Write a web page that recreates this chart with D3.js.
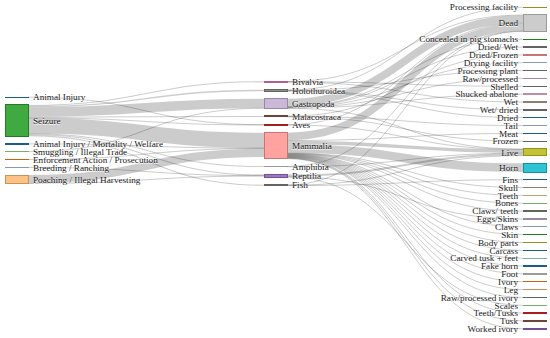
<html>
<head>
<style>
body { margin: 0; padding: 0; background: #fff; }
svg { display: block; }
.link { fill: none; stroke: #000; stroke-opacity: .2; }
.node rect { fill-opacity: .9; shape-rendering: crispEdges; }
.node text {
  font-family: "Liberation Serif", "Times New Roman", serif;
  font-size: 9.2px;
  fill: #222;
  text-shadow: 0 1px 0 #fff;
}
</style>
<script src="https://cdnjs.cloudflare.com/ajax/libs/d3/7.8.5/d3.min.js"></script>
</head>
<body>
<svg width="550" height="338"></svg>
<script>
var width = 550, height = 338

// column 1: incident type
var sources = ["Animal Injury", "Seizure", "Animal Injury / Mortality / Welfare",
  "Smuggling / Illegal Trade", "Enforcement Action / Prosecution",
  "Breeding / Ranching", "Poaching / Illegal Harvesting"]

// column 2: animal class
var classes = ["Bivalvia", "Holothuroidea", "Gastropoda", "Malacostraca", "Aves",
  "Mammalia", "Amphibia", "Reptilia", "Fish"]

// column 3: form of the product
var forms = ["Processing facility", "Dead", "Concealed in pig stomachs", "Dried/ Wet",
  "Dried/Frozen", "Drying facility", "Processing plant", "Raw/processed", "Shelled",
  "Shucked abalone", "Wet", "Wet/ dried", "Dried", "Tail", "Meat", "Frozen", "Live",
  "Horn", "Fins", "Skull", "Teeth", "Bones", "Claws/ teeth", "Eggs/Skins", "Claws",
  "Skin", "Body parts", "Carcass", "Carved tusk + feet", "Fake horn", "Foot", "Ivory",
  "Leg", "Raw/processed ivory", "Scales", "Teeth/Tusks", "Tusk", "Worked ivory"]

// incident -> class
var incidentFlows = [
  ["Animal Injury", "Aves", 1],
  ["Seizure", "Bivalvia", 3],
  ["Seizure", "Holothuroidea", 4],
  ["Seizure", "Gastropoda", 27],
  ["Seizure", "Malacostraca", 3],
  ["Seizure", "Aves", 1],
  ["Seizure", "Mammalia", 44],
  ["Seizure", "Amphibia", 2],
  ["Seizure", "Reptilia", 3],
  ["Seizure", "Fish", 3],
  ["Animal Injury / Mortality / Welfare", "Mammalia", 1],
  ["Smuggling / Illegal Trade", "Gastropoda", 1],
  ["Enforcement Action / Prosecution", "Mammalia", 1],
  ["Breeding / Ranching", "Reptilia", 1],
  ["Poaching / Illegal Harvesting", "Mammalia", 24],
  ["Poaching / Illegal Harvesting", "Reptilia", 1]
]

// class -> form
var formFlows = [
  ["Bivalvia", "Dead", 1], ["Bivalvia", "Wet", 1], ["Bivalvia", "Shelled", 1],
  ["Holothuroidea", "Processing facility", 1], ["Holothuroidea", "Processing plant", 1],
  ["Holothuroidea", "Wet/ dried", 1], ["Holothuroidea", "Dried", 1],
  ["Gastropoda", "Dead", 22], ["Gastropoda", "Concealed in pig stomachs", 1],
  ["Gastropoda", "Dried/ Wet", 1], ["Gastropoda", "Drying facility", 1],
  ["Gastropoda", "Raw/processed", 1], ["Gastropoda", "Shucked abalone", 1],
  ["Gastropoda", "Live", 1],
  ["Malacostraca", "Dried/Frozen", 1], ["Malacostraca", "Tail", 1], ["Malacostraca", "Frozen", 1],
  ["Aves", "Dead", 1], ["Aves", "Live", 1],
  ["Mammalia", "Dead", 22], ["Mammalia", "Live", 10], ["Mammalia", "Horn", 25],
  ["Mammalia", "Meat", 1], ["Mammalia", "Skull", 1], ["Mammalia", "Teeth", 1],
  ["Mammalia", "Bones", 1], ["Mammalia", "Claws/ teeth", 1], ["Mammalia", "Claws", 1],
  ["Mammalia", "Skin", 1], ["Mammalia", "Body parts", 1], ["Mammalia", "Carcass", 1],
  ["Mammalia", "Carved tusk + feet", 1], ["Mammalia", "Fake horn", 1],
  ["Mammalia", "Foot", 1], ["Mammalia", "Ivory", 1], ["Mammalia", "Leg", 1],
  ["Mammalia", "Raw/processed ivory", 1], ["Mammalia", "Teeth/Tusks", 1],
  ["Mammalia", "Tusk", 1], ["Mammalia", "Worked ivory", 1],
  ["Amphibia", "Dead", 1], ["Amphibia", "Live", 1],
  ["Reptilia", "Live", 6], ["Reptilia", "Eggs/Skins", 1], ["Reptilia", "Scales", 1],
  ["Fish", "Fins", 1], ["Fish", "Live", 1], ["Fish", "Dead", 1]
]

var c20 = ["#1f77b4", "#aec7e8", "#ff7f0e", "#ffbb78", "#2ca02c", "#98df8a", "#d62728",
  "#ff9896", "#9467bd", "#c5b0d5", "#8c564b", "#c49c94", "#e377c2", "#f7b6d2",
  "#7f7f7f", "#c7c7c7", "#bcbd22", "#dbdb8d", "#17becf", "#9edae5"]

// palette index per node, in the order sources, classes, forms
var colorIdx = [0, 4, 0, 5, 2, 1, 3,
  12, 14, 9, 10, 6, 7, 15, 8, 14,
  16, 15, 4, 14, 7, 1, 14, 9, 14, 13, 11, 14, 0, 1, 0, 14, 16, 18,
  0, 11, 17, 5, 14, 9, 1, 4, 16, 0, 19, 0, 15, 2, 3, 14, 5, 6, 10, 8]

var nodeWidth = 23, nodePadding = 7.5, iterations = 32
var extent = [[5, 7], [546, 329]]

// ---- build graph
var names = sources.concat(classes, forms)
var nodes = names.map(function(name, i) {
  var layer = i < sources.length ? 0 : (i < sources.length + classes.length ? 1 : 2)
  return {name: name, index: i, layer: layer, sourceLinks: [], targetLinks: []}
})
var byName = new Map(nodes.map(function(d) { return [d.name, d] }))
var links = incidentFlows.concat(formFlows).map(function(f, i) {
  return {source: byName.get(f[0]), target: byName.get(f[1]), value: f[2], index: i}
})
links.forEach(function(l) {
  l.source.sourceLinks.push(l)
  l.target.targetLinks.push(l)
})
nodes.forEach(function(d) {
  d.value = Math.max(d3.sum(d.sourceLinks, function(l) { return l.value }),
                     d3.sum(d.targetLinks, function(l) { return l.value }))
})
var columns = [0, 1, 2].map(function(k) { return nodes.filter(function(d) { return d.layer === k }) })

var x = d3.scalePoint().domain([0, 1, 2]).range([extent[0][0], extent[1][0] - nodeWidth])
nodes.forEach(function(d) { d.x0 = x(d.layer); d.x1 = d.x0 + nodeWidth })

var yTop = extent[0][1], yBottom = extent[1][1], py = nodePadding
var ky = d3.min(columns, function(c) {
  return (yBottom - yTop - (c.length - 1) * py) / d3.sum(c, function(d) { return d.value })
})
var h = d3.scaleLinear().domain([0, 1]).range([0, ky])
links.forEach(function(l) { l.width = h(l.value) })
nodes.forEach(function(d) { d.dy = h(d.value); d.y = yTop })

// links at a node are ordered by the position of their other end
function reorderLinks() {
  nodes.forEach(function(d) {
    d.sourceLinks.sort(function(a, b) { return a.target.y - b.target.y || a.index - b.index })
    d.targetLinks.sort(function(a, b) { return a.source.y - b.source.y || a.index - b.index })
  })
}

// the top a node would need for one of its links to run flat
function sourceTop(s, t) {
  var y = t.y - (t.targetLinks.length - 1) * py / 2
  for (var l of t.targetLinks) { if (l.source === s) break; y += l.width + py }
  for (var m of s.sourceLinks) { if (m.target === t) break; y -= m.width }
  return y
}
function targetTop(s, t) {
  var y = s.y - (s.sourceLinks.length - 1) * py / 2
  for (var l of s.sourceLinks) { if (l.target === t) break; y += l.width + py }
  for (var m of t.targetLinks) { if (m.source === s) break; y -= m.width }
  return y
}

// a column is a stack in input order; its biggest node holds the stack in place
function pack() {
  columns.forEach(function(col) {
    var a = d3.maxIndex(col, function(d) { return d.value }), i
    for (i = a + 1; i < col.length; ++i) col[i].y = col[i - 1].y + col[i - 1].dy + py
    for (i = a - 1; i >= 0; --i) col[i].y = col[i + 1].y - py - col[i].dy
    var last = col[col.length - 1], shift = 0
    if (last.y + last.dy > yBottom) shift = yBottom - last.y - last.dy
    if (col[0].y + shift < yTop) shift = yTop - col[0].y
    col.forEach(function(d) { d.y += shift })
  })
}

function relax(col, out, alpha) {
  col.forEach(function(d) {
    var ls = out ? d.sourceLinks : d.targetLinks
    if (!ls.length) return
    var y = d3.sum(ls, function(l) {
      return (out ? sourceTop(d, l.target) : targetTop(l.source, d)) * l.value
    }) / d3.sum(ls, function(l) { return l.value })
    d.y += (y - d.y) * alpha
  })
}

pack()
for (var alpha = 1, k = iterations; k > 0; --k) {
  alpha *= .99
  for (var c2 = 1; c2 < columns.length; ++c2) {
    reorderLinks(); relax(columns[c2], false, alpha); pack()
  }
  for (var c = columns.length - 2; c >= 0; --c) {
    reorderLinks(); relax(columns[c], true, alpha); pack()
  }
}
reorderLinks()
nodes.forEach(function(d) {
  d.y0 = d.y; d.y1 = d.y + d.dy
  var a = d.y0, b = d.y0
  d.sourceLinks.forEach(function(l) { l.y0 = a + l.width / 2; a += l.width })
  d.targetLinks.forEach(function(l) { l.y1 = b + l.width / 2; b += l.width })
})

// ---- draw
var color = d3.scaleOrdinal().domain(names).range(colorIdx.map(function(i) { return c20[i] }))
var svg = d3.select("svg")

svg.append("g")
  .selectAll("path")
  .data(links)
  .join("path")
  .attr("class", "link")
  .attr("d", d3.linkHorizontal()
    .source(function(d) { return [d.source.x1, d.y0] })
    .target(function(d) { return [d.target.x0, d.y1] }))
  .attr("stroke-width", function(d) { return Math.max(1, d.width) })

var node = svg.append("g")
  .selectAll("g")
  .data(nodes)
  .join("g")
  .attr("class", "node")

node.append("rect")
  .attr("x", function(d) { return d.x0 })
  .attr("y", function(d) { return d.y0 })
  .attr("width", nodeWidth)
  .attr("height", function(d) { return d.y1 - d.y0 })
  .attr("fill", function(d) { return color(d.name) })
  .attr("stroke", function(d) { return d3.rgb(color(d.name)).darker(0.7) })

node.append("text")
  .attr("x", function(d) { return d.layer < 2 ? d.x1 + 5 : d.x0 - 5 })
  .attr("y", function(d) { return (d.y0 + d.y1) / 2 })
  .attr("dy", "0.35em")
  .attr("text-anchor", function(d) { return d.layer < 2 ? "start" : "end" })
  .text(function(d) { return d.name })
</script>
</body>
</html>
